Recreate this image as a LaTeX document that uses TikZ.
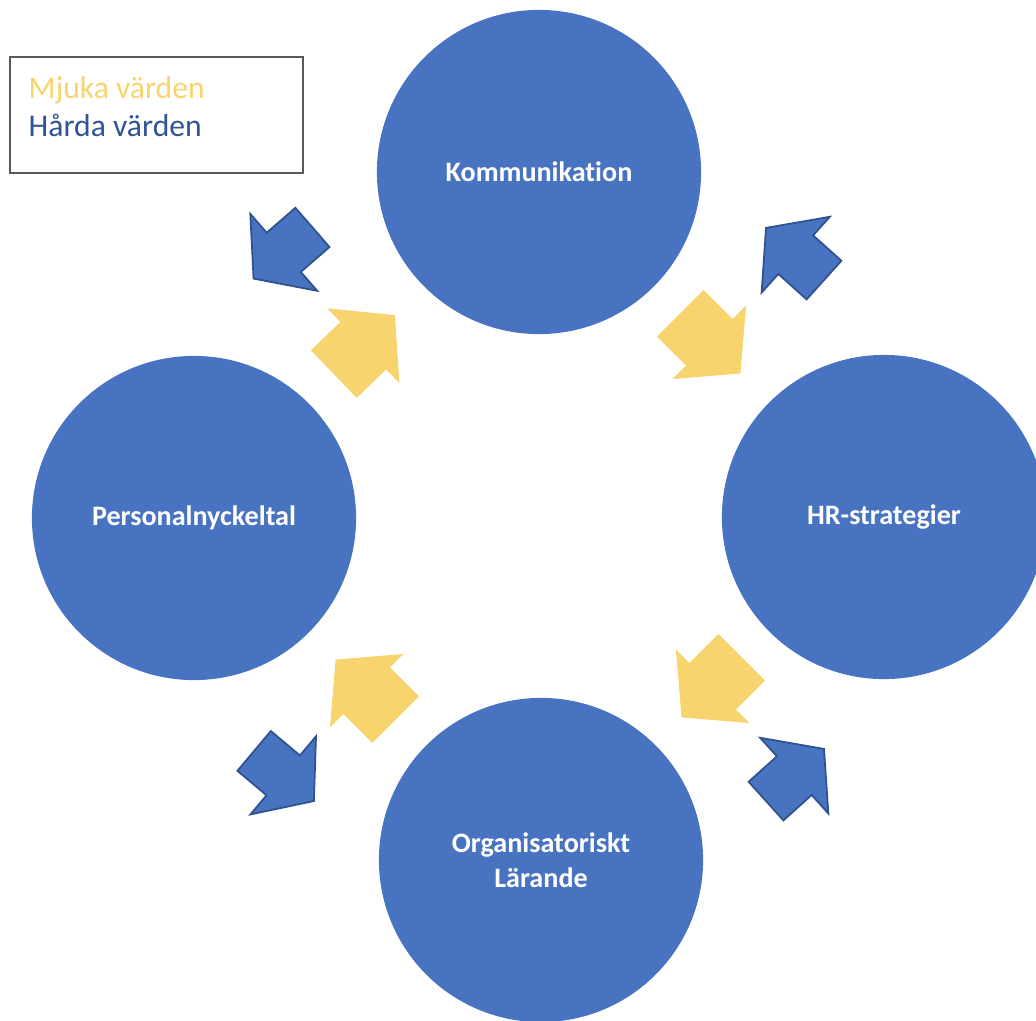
\documentclass[tikz,border=0pt]{standalone}
\usepackage{fontspec}
\setmainfont{Carlito}[Ligatures=NoCommon]
\usepackage{xcolor}
\usetikzlibrary{positioning}

\definecolor{hrblue}{HTML}{4873C1}
\definecolor{hrline}{HTML}{2F528F}
\definecolor{hrdark}{HTML}{2F5496}
\definecolor{hrgold}{HTML}{F8D46E}

\tikzset{
    pics/hardarrow/.style={code={
        \draw[fill=hrblue, draw=hrline, line width=0.5pt, line join=miter]
            (-39,-26) -- (-1,-26) -- (-1,-51) -- (39,0) -- (-1,51) -- (-1,26) -- (-39,26) -- cycle;
    }},
    pics/softarrow/.style={code={
        \fill[hrgold]
            (-42,-33) -- (-1,-33) -- (-1,-52) -- (43,0) -- (-1,52) -- (-1,33) -- (-42,33) -- cycle;
    }}
}

\begin{document}
\begin{tikzpicture}[
    x=0.01cm, y=0.01cm,
    bubble/.style={circle, fill=hrblue, minimum size=3.24cm, inner sep=0pt, text=white, align=center,
                   font=\bfseries\fontsize{8}{10}\selectfont},
    legend/.style={font=\fontsize{9}{11}\selectfont, anchor=base west, inner sep=0pt}
]
    \useasboundingbox (0,0) rectangle (1036,1020);

    % the four themes
    \node[bubble] (komm) at (539,848) {Kommunikation};
    \node[bubble] (pers) at (194,502) {Personalnyckeltal};
    \node[bubble] (hrs)  at (884,503) {HR-strategier};
    \node[bubble] (org)  at (541,160) {Organisatoriskt\\L\"arande};

    % legend
    \draw[draw=black!65, line width=0.5pt] (10,963) rectangle (303,847);
    \node[legend, text=hrgold] (mjuk) at (28,922) {Mjuka v\"arden};
    \node[legend, text=hrdark] (hard) at (28,884) {H\aa rda v\"arden};

    % soft values
    \pic[rotate=44]  at (364,675) {softarrow};
    \pic[rotate=-45] at (710,677) {softarrow};
    \pic[rotate=225] at (712,333) {softarrow};
    \pic[rotate=135] at (366,330) {softarrow};

    % hard values
    \pic[rotate=221] at (283,767) {hardarrow};
    \pic[rotate=138] at (795,766) {hardarrow};
    \pic[rotate=42]  at (795,245) {hardarrow};
    \pic[rotate=-40] at (284,244) {hardarrow};
\end{tikzpicture}
\end{document}
